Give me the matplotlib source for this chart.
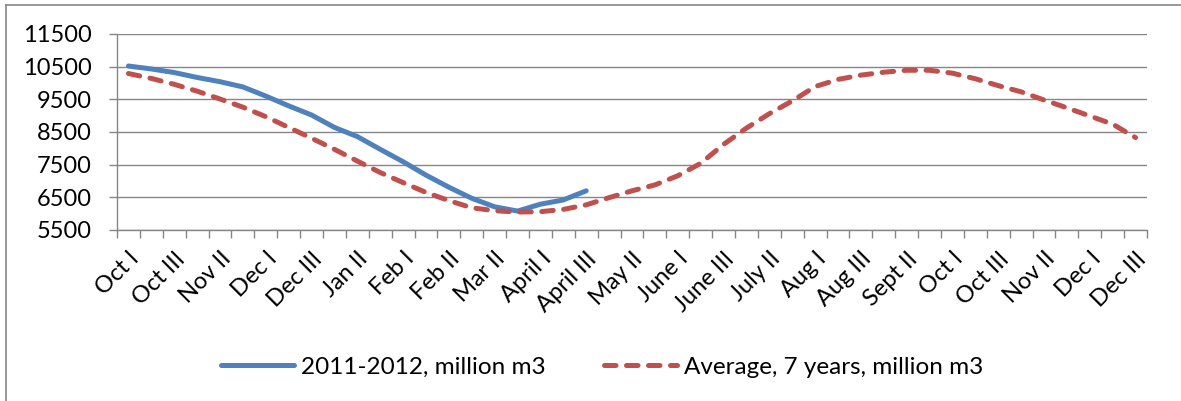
import numpy as np
import matplotlib
matplotlib.use("Agg")
import matplotlib.pyplot as plt
import matplotlib.transforms as mtransforms
from matplotlib.lines import Line2D

# Ten-day periods, Oct (year 1) through Dec (year 2)
categories = [
    "Oct I", "Oct II", "Oct III", "Nov I", "Nov II", "Nov III",
    "Dec I", "Dec II", "Dec III", "Jan I", "Jan II", "Jan III",
    "Feb I", "Feb II", "Feb II", "Mar I", "Mar II", "Mar III",
    "April I", "April II", "April III", "May I", "May II", "May III",
    "June I", "June II", "June III", "July I", "July II", "July III",
    "Aug I", "Aug II", "Aug III", "Sept I", "Sept II", "Sept III",
    "Oct I", "Oct II", "Oct III", "Nov I", "Nov II", "Nov III",
    "Dec I", "Dec II", "Dec III",
]

season_2011 = [
    10520, 10430, 10320, 10170, 10040, 9880, 9600, 9300, 9020, 8640,
    8360, 7970, 7590, 7180, 6810, 6470, 6210, 6080, 6290, 6420, 6700,
]

average_7y = [
    10290, 10140, 9960, 9750, 9510, 9260, 8970, 8640, 8310, 7970,
    7610, 7260, 6950, 6650, 6400, 6180, 6090, 6050, 6060, 6130,
    6270, 6490, 6700, 6880, 7160, 7540, 8120, 8620, 9060, 9450,
    9890, 10110, 10240, 10330, 10390, 10390, 10300, 10130, 9920, 9730,
    9480, 9240, 8990, 8740, 8330,
]

y_ticks = [5500, 6500, 7500, 8500, 9500, 10500, 11500]

blue = "#4F81BD"
red = "#C0504D"
grey = "#868686"

plt.rcParams['font.family'] = ['Lato', 'DejaVu Sans']

fig = plt.figure(figsize=(11.81, 4.01), dpi=100)
ax = fig.add_axes([117 / 1181, 1 - 230 / 401, 1030 / 1181, 196 / 401])

x_all = np.arange(len(categories))
ax.plot(np.arange(len(season_2011)), season_2011, color=blue, lw=3.6,
        solid_capstyle='round', solid_joinstyle='round',
        label="2011-2012, million m3")
ax.plot(x_all, average_7y, color=red, lw=3.6, linestyle=(0, (2.3, 2.1)),
        dash_capstyle='round', label="Average, 7 years, million m3")

ax.set_xlim(-0.5, len(categories) - 0.5)
ax.set_ylim(5500, 11500)
ax.set_yticks(y_ticks)
ax.set_yticklabels([str(v) for v in y_ticks], fontsize=17)

# tick marks between categories, labels on every second category
ax.set_xticks(np.arange(-0.5, len(categories), 1))
ax.set_xticklabels([])
ax.set_xticks(x_all[::2], minor=True)
ax.set_xticklabels(categories[::2], minor=True, rotation=45, ha='right',
                   rotation_mode='anchor', fontsize=17)
shift = mtransforms.ScaledTranslation(-3 / 100, 0, fig.dpi_scale_trans)
for lbl in ax.get_xticklabels(minor=True):
    lbl.set_transform(lbl.get_transform() + shift)
ax.tick_params(axis='x', which='major', length=6, width=1, color=grey, direction='out')
ax.tick_params(axis='x', which='minor', length=0, pad=13)
ax.tick_params(axis='y', length=6, width=1, color=grey, pad=12)

ax.grid(axis='y', color=grey, lw=1)
ax.set_axisbelow(True)
for s in ['top', 'right']:
    ax.spines[s].set_visible(False)
for s in ['left', 'bottom']:
    ax.spines[s].set_color(grey)
    ax.spines[s].set_linewidth(1)

# chart frame
fig.add_artist(Line2D([6 / 1181, 6 / 1181], [0, 1 - 5 / 401], color=grey, lw=1.2))
fig.add_artist(Line2D([6 / 1181, 1], [1 - 5 / 401, 1 - 5 / 401], color=grey, lw=1.2))

fig.legend(loc='center', bbox_to_anchor=(0.51, 1 - 367 / 401), ncol=2,
           frameon=False, fontsize=17.5, handlelength=3.0, handletextpad=0.3,
           columnspacing=2.4)

fig.savefig("out.png", dpi=100)
